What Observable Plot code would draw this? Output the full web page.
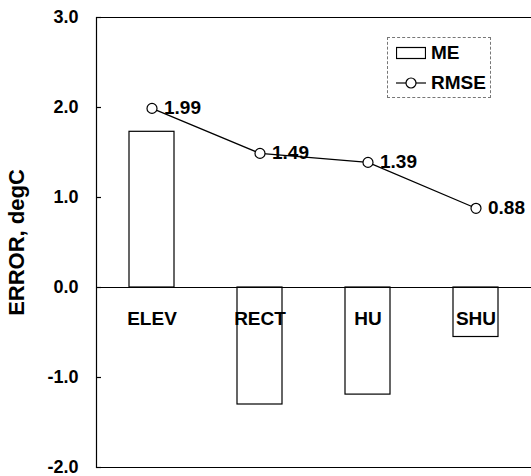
<!DOCTYPE html>
<html>
<head>
<meta charset="utf-8">
<script src="https://cdn.jsdelivr.net/npm/d3@7"></script>
<script src="https://cdn.jsdelivr.net/npm/@observablehq/plot@0.6"></script>
<style>
  html, body { margin: 0; padding: 0; background: #fff; }
  #wrap { position: relative; width: 531px; height: 476px; font-family: "Liberation Sans", Arial, sans-serif; font-weight: bold; }
  #legend { position: absolute; left: 387px; top: 37px; width: 104px; height: 61px; border: 1px dashed #777; box-sizing: border-box; font-size: 19px; }
  .item { position: absolute; left: 8px; display: flex; align-items: center; height: 20px; }
  .item svg { margin-right: 5px; }
</style>
</head>
<body>
<div id="wrap"></div>
<script>
const categories = ["ELEV", "RECT", "HU", "SHU"];
const meValues = [1.73, -1.30, -1.19, -0.55];
const rmseValues = [1.99, 1.49, 1.39, 0.88];
const rmseLabels = ["1.99", "1.49", "1.39", "0.88"];
const yTicks = [3, 2, 1, 0, -1, -2];
const yTickLabels = ["3.0", "2.0", "1.0", "0.0", "-1.0", "-2.0"];

const me = categories.map((c, i) => ({cat: c, v: meValues[i]}));
const rmse = categories.map((c, i) => ({cat: c, v: rmseValues[i], label: rmseLabels[i]}));
const font = "'Liberation Sans', Arial, sans-serif";

const chart = Plot.plot({
  width: 531,
  height: 476,
  marginLeft: 96,
  marginRight: 0,
  marginTop: 17,
  marginBottom: 9,
  style: {fontFamily: font, fontWeight: "bold", background: "#fff", color: "#000"},
  x: {domain: categories, paddingInner: 0.586, paddingOuter: 0.293, axis: null},
  y: {domain: [-2, 3], axis: null},
  marks: [
    Plot.ruleY([3, -2], {stroke: "#000", strokeWidth: 1.2}),
    Plot.frame({anchor: "left", stroke: "#000", strokeWidth: 1.2}),
    Plot.tickY(yTicks, {y: (d) => d, insetRight: 531 - 96 - 5, stroke: "#000", strokeWidth: 1.2}),
    Plot.barY(me, {x: "cat", y: "v", fill: "#fff", stroke: "#000", strokeWidth: 1.2}),
    Plot.ruleY([0], {stroke: "#000", strokeWidth: 1.2}),
    Plot.axisY(yTicks, {
      anchor: "left",
      tickSize: 0,
      tickPadding: 18,
      tickFormat: (d) => yTickLabels[yTicks.indexOf(d)],
      fontSize: 18,
      fontWeight: "bold",
      label: "ERROR, degC",
      labelAnchor: "center",
      labelArrow: "none",
      labelOffset: 88
    }),
    Plot.text(me, {x: "cat", y: () => -0.35, text: "cat", fontSize: 19, fontWeight: "bold", fill: "#000"}),
    Plot.text(rmse, {x: "cat", y: "v", text: "label", textAnchor: "start", dx: 12, fontSize: 19, fontWeight: "bold", fill: "#000"}),
    Plot.line(rmse, {x: "cat", y: "v", stroke: "#000", strokeWidth: 1.2}),
    Plot.dot(rmse, {x: "cat", y: "v", r: 5, fill: "#fff", stroke: "#000", strokeWidth: 1.2})
  ]
});

const wrap = document.getElementById("wrap");
wrap.appendChild(chart);

const legend = document.createElement("div");
legend.id = "legend";
legend.innerHTML = `
  <div class="item" style="top:5px"><svg width="30" height="14"><rect x="0.5" y="1.5" width="29" height="11" fill="#fff" stroke="#000" stroke-width="1.2"/></svg><span>ME</span></div>
  <div class="item" style="top:35px"><svg width="30" height="14"><line x1="0" y1="7" x2="30" y2="7" stroke="#000" stroke-width="1.2"/><circle cx="15" cy="7" r="5" fill="#fff" stroke="#000" stroke-width="1.2"/></svg><span>RMSE</span></div>`;
wrap.appendChild(legend);

chart.querySelectorAll("g[aria-label='y-axis label'] text").forEach(t => {
  t.setAttribute("font-size", "22");
});
</script>
</body>
</html>
